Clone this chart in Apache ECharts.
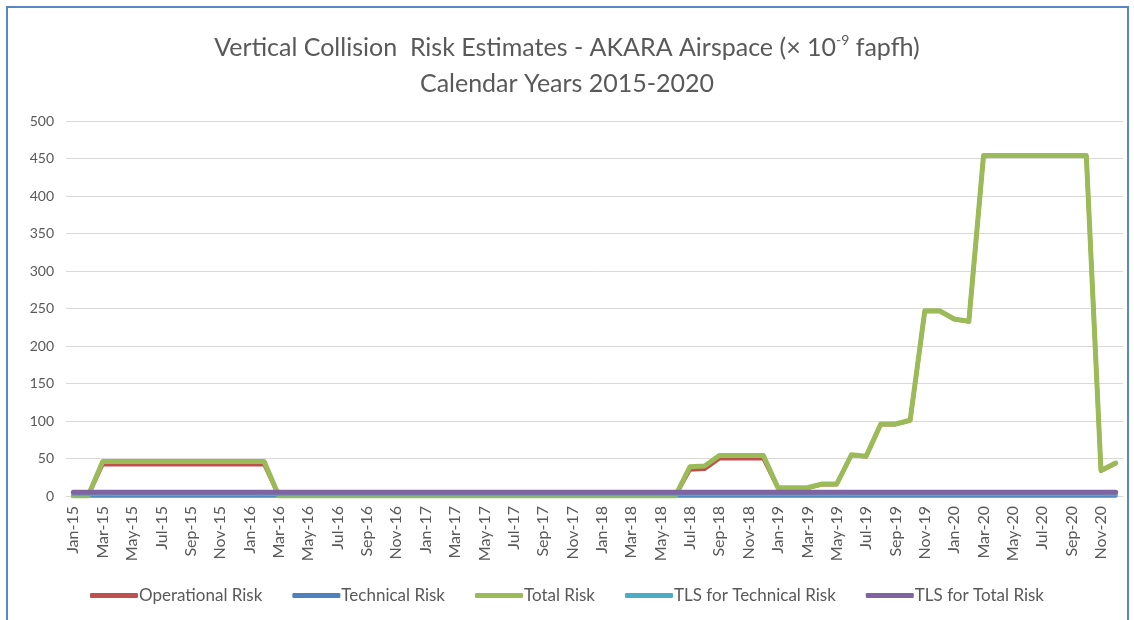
<!DOCTYPE html>
<html>
<head>
<meta charset="utf-8">
<script src="https://cdn.jsdelivr.net/npm/echarts@6/dist/echarts.min.js"></script>
<style>
html,body{margin:0;padding:0;background:#fff;}
#chart{width:1134px;height:620px;}
</style>
</head>
<body>
<div id="chart"></div>
<script>
// ---- data ----
const months = [
 'Jan-15','Feb-15','Mar-15','Apr-15','May-15','Jun-15','Jul-15','Aug-15','Sep-15','Oct-15','Nov-15','Dec-15',
 'Jan-16','Feb-16','Mar-16','Apr-16','May-16','Jun-16','Jul-16','Aug-16','Sep-16','Oct-16','Nov-16','Dec-16',
 'Jan-17','Feb-17','Mar-17','Apr-17','May-17','Jun-17','Jul-17','Aug-17','Sep-17','Oct-17','Nov-17','Dec-17',
 'Jan-18','Feb-18','Mar-18','Apr-18','May-18','Jun-18','Jul-18','Aug-18','Sep-18','Oct-18','Nov-18','Dec-18',
 'Jan-19','Feb-19','Mar-19','Apr-19','May-19','Jun-19','Jul-19','Aug-19','Sep-19','Oct-19','Nov-19','Dec-19',
 'Jan-20','Feb-20','Mar-20','Apr-20','May-20','Jun-20','Jul-20','Aug-20','Sep-20','Oct-20','Nov-20','Dec-20'
];
const operationalRisk = [
 0,0,42,42,42,42,42,42,42,42,42,42,
 42,42,0,0,0,0,0,0,0,0,0,0,
 0,0,0,0,0,0,0,0,0,0,0,0,
 0,0,0,0,0,0,35,36,50,50,50,50,
 10.5,10.5,10.5,15.5,15.5,54.5,52.5,95.5,95.5,100.5,246.5,246.5,
 235.5,232.5,453.5,453.5,453.5,453.5,453.5,453.5,453.5,453.5,33.5,43.5
];
const technicalRisk = [
 0.4,0.4,0.4,0.4,0.4,0.4,0.4,0.4,0.4,0.4,0.4,0.4,
 0.4,0.4,0.4,0.4,0.4,0.4,0.4,0.4,0.4,0.4,0.4,0.4,
 0.4,0.4,0.4,0.4,0.4,0.4,0.4,0.4,0.4,0.4,0.4,0.4,
 0.4,0.4,0.4,0.4,0.4,0.4,0.4,0.4,0.4,0.4,0.4,0.4,
 0.4,0.4,0.4,0.4,0.4,0.4,0.4,0.4,0.4,0.4,0.4,0.4,
 0.4,0.4,0.4,0.4,0.4,0.4,0.4,0.4,0.4,0.4,0.4,0.4
];
const totalRisk = [
 0,0,46,46,46,46,46,46,46,46,46,46,
 46,46,0,0,0,0,0,0,0,0,0,0,
 0,0,0,0,0,0,0,0,0,0,0,0,
 0,0,0,0,0,0,39,40,54,54,54,54,
 11,11,11,16,16,55,53,96,96,101,247,247,
 236,233,454,454,454,454,454,454,454,454,34,44
];
const tlsTechnical = [
 2.5,2.5,2.5,2.5,2.5,2.5,2.5,2.5,2.5,2.5,2.5,2.5,
 2.5,2.5,2.5,2.5,2.5,2.5,2.5,2.5,2.5,2.5,2.5,2.5,
 2.5,2.5,2.5,2.5,2.5,2.5,2.5,2.5,2.5,2.5,2.5,2.5,
 2.5,2.5,2.5,2.5,2.5,2.5,2.5,2.5,2.5,2.5,2.5,2.5,
 2.5,2.5,2.5,2.5,2.5,2.5,2.5,2.5,2.5,2.5,2.5,2.5,
 2.5,2.5,2.5,2.5,2.5,2.5,2.5,2.5,2.5,2.5,2.5,2.5
];
const tlsTotal = [
 5,5,5,5,5,5,5,5,5,5,5,5,
 5,5,5,5,5,5,5,5,5,5,5,5,
 5,5,5,5,5,5,5,5,5,5,5,5,
 5,5,5,5,5,5,5,5,5,5,5,5,
 5,5,5,5,5,5,5,5,5,5,5,5,
 5,5,5,5,5,5,5,5,5,5,5,5
];
const yTicks = { min: 0, max: 500, interval: 50 };
const seriesNames = ['Operational Risk','Technical Risk','Total Risk','TLS for Technical Risk','TLS for Total Risk'];
const colors = ['#C0504D','#4F81BD','#9BBB59','#4BACC6','#8064A2'];

// ---- chart ----
const chart = echarts.init(document.getElementById('chart'));
const FONT = 'Lato';
const dataSets = [operationalRisk, technicalRisk, totalRisk, tlsTechnical, tlsTotal];
const widths = [4, 4, 5, 4, 5];
const series = seriesNames.map((n, i) => ({
  name: n,
  type: 'line',
  data: dataSets[i],
  symbol: 'none',
  showSymbol: false,
  lineStyle: { width: widths[i], color: colors[i], cap: 'round', join: 'round' },
  itemStyle: { color: colors[i] },
  animation: false,
  z: 2 + i
}));

chart.setOption({
  backgroundColor: '#ffffff',
  animation: false,
  title: {
    text: '{a|Vertical Collision  Risk Estimates - AKARA Airspace (× 10}{sup|-9}{a| fapfh)}\n{a|Calendar Years 2015-2020}',
    left: 'center',
    top: 25,
    textStyle: {
      fontWeight: 'normal',
      rich: {
        a: { fontFamily: FONT, fontSize: 25, fontWeight: 'normal', color: '#595959', lineHeight: 36 },
        sup: { fontFamily: FONT, fontSize: 14, fontWeight: 'normal', color: '#595959', lineHeight: 36, verticalAlign: 'top', padding: [3,0,0,0] }
      }
    }
  },
  graphic: [{
    type: 'rect',
    shape: { x: 7, y: 7, width: 1121, height: 640 },
    style: { fill: 'none', stroke: '#5688c8', lineWidth: 2 },
    silent: true
  }],
  legend: {
    bottom: 11,
    left: 'center',
    icon: 'roundRect',
    itemWidth: 48,
    itemHeight: 5,
    itemGap: 30,
    textStyle: { fontFamily: FONT, fontSize: 17, color: '#595959', padding: [0,0,0,-4] },
    data: seriesNames
  },
  grid: { left: 66, right: 11, top: 121, bottom: 124, containLabel: false },
  xAxis: {
    type: 'category',
    data: months,
    boundaryGap: true,
    axisLine: { show: true, lineStyle: { color: '#d9d9d9' } },
    axisTick: { show: false },
    axisLabel: { interval: 1, rotate: 90, fontFamily: FONT, fontSize: 16, color: '#595959', margin: 10 }
  },
  yAxis: {
    type: 'value',
    min: yTicks.min, max: yTicks.max, interval: yTicks.interval,
    axisLine: { show: false },
    axisTick: { show: false },
    splitLine: { lineStyle: { color: '#d9d9d9', width: 1 } },
    axisLabel: { fontFamily: FONT, fontSize: 14, color: '#595959', margin: 12 }
  },
  series: series
});
</script>
</body>
</html>
